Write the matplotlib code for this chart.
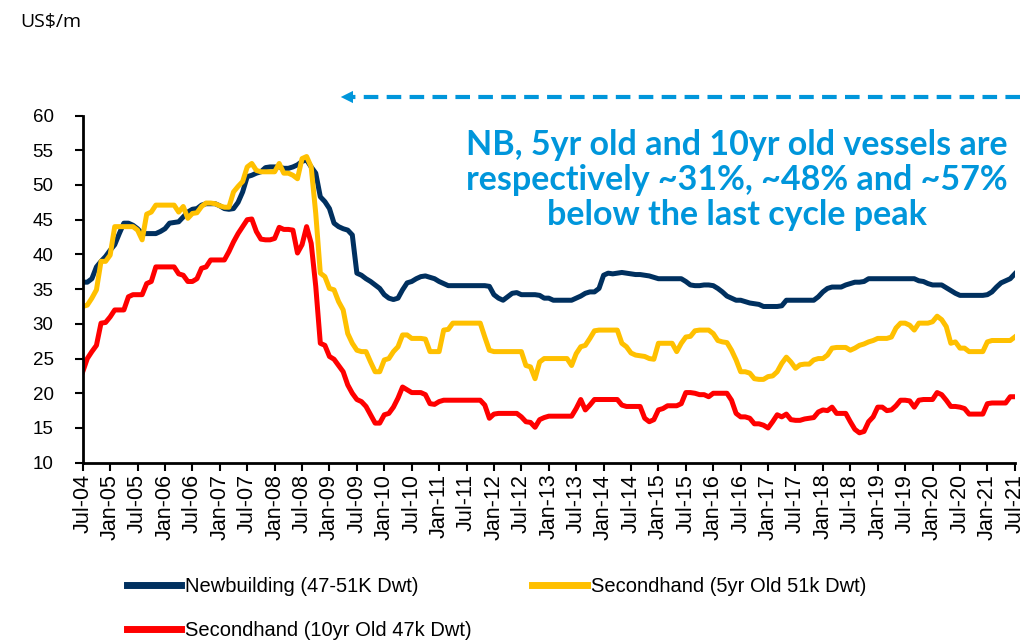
import matplotlib
matplotlib.use('Agg')
import matplotlib.pyplot as plt
from matplotlib.lines import Line2D
import numpy as np

# Monthly prices, US$m, Jul-04 .. Jul-21
newbuilding = [
    36.0, 36.0, 36.5, 38.2, 39.0, 39.7, 40.6, 41.4, 43.0, 44.5, 44.5, 44.2,
    43.7, 43.0, 43.0, 43.0, 43.0, 43.3, 43.7, 44.5, 44.6, 44.7, 45.4, 46.1,
    46.5, 46.6, 47.1, 47.3, 47.3, 47.3, 47.0, 46.6, 46.5, 46.6, 47.5, 49.0,
    51.2, 51.4, 51.7, 51.9, 52.5, 52.6, 52.6, 52.6, 52.4, 52.4, 52.6, 52.9,
    53.4, 53.6, 52.6, 51.7, 48.3, 47.6, 46.6, 44.5, 44.0, 43.7, 43.5, 42.8,
    37.3, 37.0, 36.5, 36.1, 35.6, 35.1, 34.2, 33.7, 33.5, 33.7, 34.9, 35.9,
    36.1, 36.5, 36.8, 36.9, 36.7, 36.5, 36.1, 35.8, 35.5, 35.5, 35.5, 35.5,
    35.5, 35.5, 35.5, 35.5, 35.5, 35.4, 34.2, 33.7, 33.4, 33.9, 34.4, 34.5,
    34.2, 34.2, 34.2, 34.2, 34.1, 33.7, 33.7, 33.4, 33.4, 33.4, 33.4, 33.4,
    33.7, 34.0, 34.4, 34.6, 34.6, 35.1, 37.0, 37.3, 37.2, 37.3, 37.4, 37.3,
    37.2, 37.1, 37.1, 37.0, 36.9, 36.7, 36.5, 36.5, 36.5, 36.5, 36.5, 36.5,
    36.1, 35.6, 35.5, 35.5, 35.6, 35.6, 35.5, 35.1, 34.6, 34.0, 33.7, 33.4,
    33.4, 33.2, 33.0, 32.9, 32.8, 32.5, 32.5, 32.5, 32.5, 32.6, 33.4, 33.4,
    33.4, 33.4, 33.4, 33.4, 33.4, 33.9, 34.6, 35.1, 35.3, 35.3, 35.3, 35.6,
    35.8, 36.0, 36.0, 36.1, 36.5, 36.5, 36.5, 36.5, 36.5, 36.5, 36.5, 36.5,
    36.5, 36.5, 36.5, 36.2, 36.1, 35.8, 35.6, 35.6, 35.6, 35.2, 34.8, 34.4,
    34.1, 34.1, 34.1, 34.1, 34.1, 34.1, 34.2, 34.6, 35.3, 35.9, 36.2, 36.5,
    37.2,
]
secondhand_5yr = [
    32.5, 32.7, 33.7, 34.9, 39.0, 39.0, 39.9, 44.0, 44.0, 44.0, 44.0, 44.0,
    43.5, 42.1, 45.8, 46.1, 47.1, 47.1, 47.1, 47.1, 47.1, 46.1, 46.9, 45.2,
    45.9, 46.0, 46.9, 47.4, 47.4, 47.3, 47.0, 46.8, 46.8, 49.0, 49.8, 50.5,
    52.6, 53.1, 52.1, 51.9, 51.9, 51.9, 51.9, 53.1, 51.7, 51.7, 51.4, 50.9,
    53.8, 54.1, 52.6, 45.9, 37.3, 36.8, 35.1, 34.9, 33.2, 32.0, 28.6, 27.2,
    26.2, 26.0, 26.0, 24.5, 23.1, 23.1, 24.8, 25.0, 26.0, 26.7, 28.4, 28.4,
    27.9, 27.9, 27.9, 27.8, 26.0, 26.0, 26.0, 29.1, 29.2, 30.1, 30.1, 30.1,
    30.1, 30.1, 30.1, 30.1, 28.1, 26.2, 26.0, 26.0, 26.0, 26.0, 26.0, 26.0,
    26.0, 24.0, 23.8, 22.1, 24.5, 25.0, 25.0, 25.0, 25.0, 25.0, 25.0, 24.0,
    25.7, 26.7, 26.9, 27.9, 29.0, 29.1, 29.1, 29.1, 29.1, 29.1, 27.2, 26.7,
    25.8, 25.5, 25.4, 25.3, 25.0, 24.9, 27.2, 27.2, 27.2, 27.2, 26.0, 27.2,
    28.1, 28.2, 29.0, 29.1, 29.1, 29.1, 28.6, 27.6, 27.4, 27.3, 26.2, 24.8,
    23.1, 23.1, 22.9, 22.1, 22.0, 22.0, 22.4, 22.5, 23.1, 24.3, 25.2, 24.5,
    23.6, 24.1, 24.2, 24.2, 24.8, 25.0, 25.0, 25.5, 26.5, 26.6, 26.6, 26.6,
    26.2, 26.5, 26.9, 27.1, 27.4, 27.6, 27.9, 27.9, 27.9, 28.1, 29.4, 30.1,
    30.1, 29.8, 29.1, 30.1, 30.1, 30.1, 30.3, 31.1, 30.6, 29.6, 27.2, 27.4,
    26.5, 26.5, 26.0, 26.0, 26.0, 26.0, 27.4, 27.6, 27.6, 27.6, 27.6, 27.6,
    28.1,
]
secondhand_10yr = [
    23.1, 25.0, 26.0, 26.9, 30.1, 30.2, 31.0, 32.0, 32.0, 32.0, 33.9, 34.2,
    34.2, 34.2, 35.8, 36.1, 38.2, 38.2, 38.2, 38.2, 38.2, 37.2, 37.0, 36.1,
    36.1, 36.5, 38.0, 38.2, 39.2, 39.2, 39.2, 39.2, 40.4, 41.8, 43.0, 44.0,
    45.0, 45.1, 43.3, 42.2, 42.1, 42.1, 42.3, 43.9, 43.6, 43.6, 43.5, 40.2,
    41.4, 44.0, 41.6, 35.4, 27.2, 26.9, 25.3, 24.9, 24.0, 23.1, 21.2, 20.0,
    19.1, 18.8, 18.1, 16.9, 15.7, 15.7, 16.9, 17.1, 18.0, 19.3, 20.9, 20.5,
    20.1, 20.1, 20.1, 19.8, 18.5, 18.4, 18.8, 19.0, 19.0, 19.0, 19.0, 19.0,
    19.0, 19.0, 19.0, 19.0, 18.3, 16.4, 17.0, 17.1, 17.1, 17.1, 17.1, 17.1,
    16.6, 15.9, 15.8, 15.1, 16.2, 16.5, 16.7, 16.7, 16.7, 16.7, 16.7, 16.7,
    17.8, 19.1, 17.6, 18.3, 19.1, 19.1, 19.1, 19.1, 19.1, 19.1, 18.3, 18.1,
    18.1, 18.1, 18.1, 16.4, 15.9, 16.2, 17.6, 17.8, 18.2, 18.2, 18.2, 18.5,
    20.1, 20.1, 20.0, 19.8, 19.8, 19.5, 20.0, 20.0, 20.0, 20.0, 19.0, 17.1,
    16.6, 16.6, 16.4, 15.6, 15.6, 15.4, 15.0, 15.9, 16.9, 16.6, 17.0, 16.2,
    16.1, 16.1, 16.3, 16.4, 16.5, 17.3, 17.6, 17.5, 18.0, 17.1, 17.1, 17.1,
    15.9, 14.8, 14.3, 14.5, 15.9, 16.6, 18.0, 18.0, 17.5, 17.6, 18.2, 19.0,
    19.0, 18.9, 18.0, 19.0, 19.1, 19.1, 19.1, 20.1, 19.8, 19.0, 18.1, 18.1,
    18.0, 17.8, 17.0, 17.0, 17.0, 17.0, 18.5, 18.6, 18.6, 18.6, 18.6, 19.5,
    19.5,
]

# x tick labels every six months, Jul-04 .. Jul-21
tick_labels = []
for yr in range(4, 22):
    if yr > 4:
        tick_labels.append(f'Jan-{yr:02d}')
    tick_labels.append(f'Jul-{yr:02d}')

names = ['Newbuilding (47-51K Dwt)', 'Secondhand (5yr Old 51k Dwt)', 'Secondhand (10yr Old 47k Dwt)']
colors = ['#00305F', '#FFC000', '#FF0000']
blue = '#0096DB'

plt.rcParams['font.family'] = ['Liberation Sans', 'DejaVu Sans']

fig = plt.figure(figsize=(10.24, 6.42), dpi=100)
fig.patch.set_facecolor('white')
ax = fig.add_axes([0.0808, 0.2793, 0.9102, 0.5407])

x = np.arange(len(newbuilding))
l1, = ax.plot(x, newbuilding, color=colors[0], lw=3.6, solid_joinstyle='round', zorder=3)
l2, = ax.plot(x, secondhand_5yr, color=colors[1], lw=3.6, solid_joinstyle='round', zorder=4)
l3, = ax.plot(x, secondhand_10yr, color=colors[2], lw=3.6, solid_joinstyle='round', zorder=5)

ax.set_xlim(0, len(newbuilding) - 1)
ax.set_ylim(10, 60)
ax.set_yticks(np.arange(10, 61, 5))
ax.set_xticks(np.arange(0, len(newbuilding), 6))
ax.set_xticklabels(tick_labels, rotation=90, fontsize=15.5)
ax.tick_params(axis='y', direction='out', length=6, width=1.5, labelsize=13.5, pad=15)
ax.tick_params(axis='x', direction='out', length=6, width=1.5, pad=2)
for s in ['top', 'right']:
    ax.spines[s].set_visible(False)
for s in ['left', 'bottom']:
    ax.spines[s].set_linewidth(2)
    ax.spines[s].set_color('black')
ax.spines['left'].set_zorder(6)

fig.text(20 / 1024, 1 - 22 / 642, 'US$/m', fontsize=14, family=['Open Sans', 'DejaVu Sans'],
         ha='left', va='center')

fig.text(737 / 1024, 1 - 180 / 642,
         'NB, 5yr old and 10yr old vessels are\nrespectively ~31%, ~48% and ~57%\nbelow the last cycle peak',
         fontsize=24.5, fontweight='bold', color=blue, family=['Lato', 'DejaVu Sans'],
         ha='center', va='center', linespacing=1.1)

# dashed arrow pointing left
fig.add_artist(Line2D([1020 / 1024, 352 / 1024], [1 - 97 / 642, 1 - 97 / 642],
                      color=blue, lw=3, linestyle=(0, (3.5, 2))))
ax.annotate('', xy=(338 / 1024, 1 - 97 / 642), xycoords='figure fraction',
            xytext=(356 / 1024, 1 - 97 / 642), textcoords='figure fraction',
            arrowprops=dict(arrowstyle='-|>', color=blue, lw=0, mutation_scale=22))

leg = fig.legend([l1, l3, l2], [names[0], names[2], names[1]], ncol=2,
                 loc='upper left', bbox_to_anchor=(127 / 1024, 1 - 577 / 642),
                 frameon=False, borderpad=0, borderaxespad=0,
                 handlelength=2.7, handletextpad=0.2,
                 columnspacing=3.0, labelspacing=1.25,
                 prop={'family': ['Liberation Sans', 'DejaVu Sans'], 'size': 14.5})
for h in leg.get_lines():
    h.set_linewidth(5)

fig.savefig('out.png', dpi=100, facecolor='white')
